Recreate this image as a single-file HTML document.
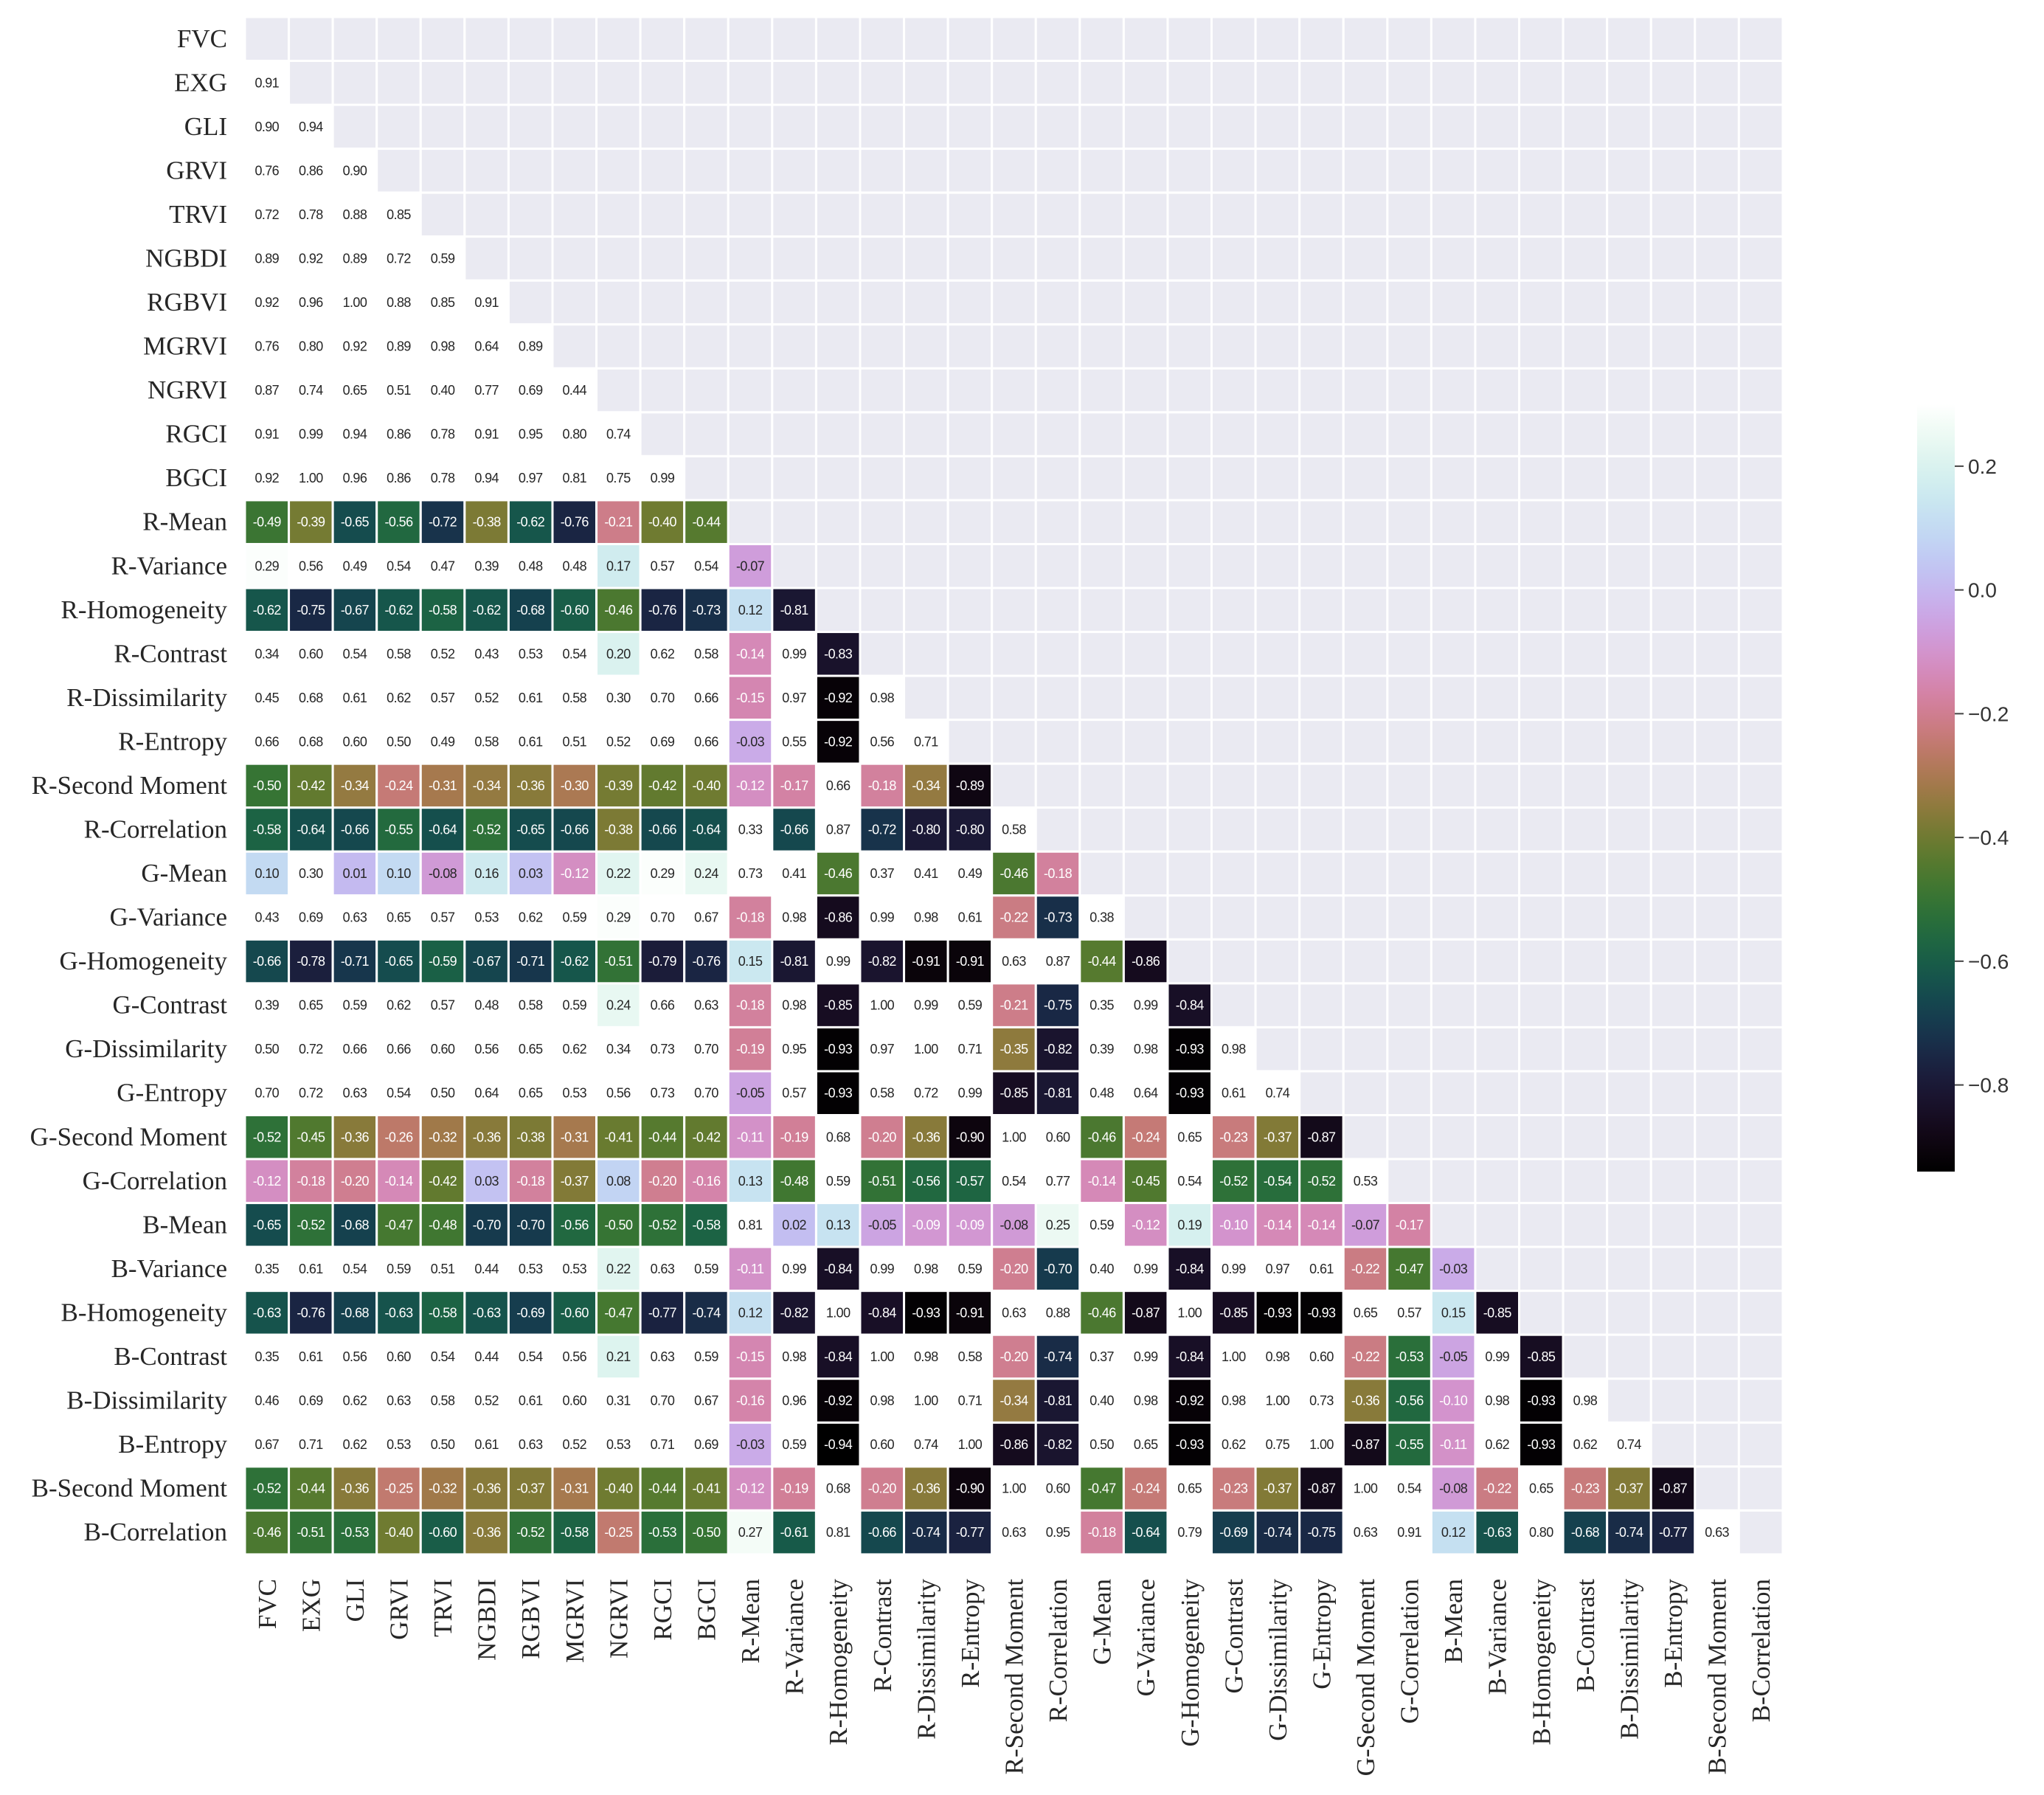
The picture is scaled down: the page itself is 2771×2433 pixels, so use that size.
<!DOCTYPE html>
<html><head><meta charset="utf-8"><style>
html,body{margin:0;padding:0;background:#fff;}
svg{display:block;}
</style></head><body>
<svg id="chart" width="2771" height="2433" xmlns="http://www.w3.org/2000/svg"></svg>
<script>
const labels = ["FVC","EXG","GLI","GRVI","TRVI","NGBDI","RGBVI","MGRVI","NGRVI","RGCI","BGCI","R-Mean","R-Variance","R-Homogeneity","R-Contrast","R-Dissimilarity","R-Entropy","R-Second Moment","R-Correlation","G-Mean","G-Variance","G-Homogeneity","G-Contrast","G-Dissimilarity","G-Entropy","G-Second Moment","G-Correlation","B-Mean","B-Variance","B-Homogeneity","B-Contrast","B-Dissimilarity","B-Entropy","B-Second Moment","B-Correlation"];
const lowerRows = [
[],
[0.91],
[0.90,0.94],
[0.76,0.86,0.90],
[0.72,0.78,0.88,0.85],
[0.89,0.92,0.89,0.72,0.59],
[0.92,0.96,1.00,0.88,0.85,0.91],
[0.76,0.80,0.92,0.89,0.98,0.64,0.89],
[0.87,0.74,0.65,0.51,0.40,0.77,0.69,0.44],
[0.91,0.99,0.94,0.86,0.78,0.91,0.95,0.80,0.74],
[0.92,1.00,0.96,0.86,0.78,0.94,0.97,0.81,0.75,0.99],
[-0.49,-0.39,-0.65,-0.56,-0.72,-0.38,-0.62,-0.76,-0.21,-0.40,-0.44],
[0.29,0.56,0.49,0.54,0.47,0.39,0.48,0.48,0.17,0.57,0.54,-0.07],
[-0.62,-0.75,-0.67,-0.62,-0.58,-0.62,-0.68,-0.60,-0.46,-0.76,-0.73,0.12,-0.81],
[0.34,0.60,0.54,0.58,0.52,0.43,0.53,0.54,0.20,0.62,0.58,-0.14,0.99,-0.83],
[0.45,0.68,0.61,0.62,0.57,0.52,0.61,0.58,0.30,0.70,0.66,-0.15,0.97,-0.92,0.98],
[0.66,0.68,0.60,0.50,0.49,0.58,0.61,0.51,0.52,0.69,0.66,-0.03,0.55,-0.92,0.56,0.71],
[-0.50,-0.42,-0.34,-0.24,-0.31,-0.34,-0.36,-0.30,-0.39,-0.42,-0.40,-0.12,-0.17,0.66,-0.18,-0.34,-0.89],
[-0.58,-0.64,-0.66,-0.55,-0.64,-0.52,-0.65,-0.66,-0.38,-0.66,-0.64,0.33,-0.66,0.87,-0.72,-0.80,-0.80,0.58],
[0.10,0.30,0.01,0.10,-0.08,0.16,0.03,-0.12,0.22,0.29,0.24,0.73,0.41,-0.46,0.37,0.41,0.49,-0.46,-0.18],
[0.43,0.69,0.63,0.65,0.57,0.53,0.62,0.59,0.29,0.70,0.67,-0.18,0.98,-0.86,0.99,0.98,0.61,-0.22,-0.73,0.38],
[-0.66,-0.78,-0.71,-0.65,-0.59,-0.67,-0.71,-0.62,-0.51,-0.79,-0.76,0.15,-0.81,0.99,-0.82,-0.91,-0.91,0.63,0.87,-0.44,-0.86],
[0.39,0.65,0.59,0.62,0.57,0.48,0.58,0.59,0.24,0.66,0.63,-0.18,0.98,-0.85,1.00,0.99,0.59,-0.21,-0.75,0.35,0.99,-0.84],
[0.50,0.72,0.66,0.66,0.60,0.56,0.65,0.62,0.34,0.73,0.70,-0.19,0.95,-0.93,0.97,1.00,0.71,-0.35,-0.82,0.39,0.98,-0.93,0.98],
[0.70,0.72,0.63,0.54,0.50,0.64,0.65,0.53,0.56,0.73,0.70,-0.05,0.57,-0.93,0.58,0.72,0.99,-0.85,-0.81,0.48,0.64,-0.93,0.61,0.74],
[-0.52,-0.45,-0.36,-0.26,-0.32,-0.36,-0.38,-0.31,-0.41,-0.44,-0.42,-0.11,-0.19,0.68,-0.20,-0.36,-0.90,1.00,0.60,-0.46,-0.24,0.65,-0.23,-0.37,-0.87],
[-0.12,-0.18,-0.20,-0.14,-0.42,0.03,-0.18,-0.37,0.08,-0.20,-0.16,0.13,-0.48,0.59,-0.51,-0.56,-0.57,0.54,0.77,-0.14,-0.45,0.54,-0.52,-0.54,-0.52,0.53],
[-0.65,-0.52,-0.68,-0.47,-0.48,-0.70,-0.70,-0.56,-0.50,-0.52,-0.58,0.81,0.02,0.13,-0.05,-0.09,-0.09,-0.08,0.25,0.59,-0.12,0.19,-0.10,-0.14,-0.14,-0.07,-0.17],
[0.35,0.61,0.54,0.59,0.51,0.44,0.53,0.53,0.22,0.63,0.59,-0.11,0.99,-0.84,0.99,0.98,0.59,-0.20,-0.70,0.40,0.99,-0.84,0.99,0.97,0.61,-0.22,-0.47,-0.03],
[-0.63,-0.76,-0.68,-0.63,-0.58,-0.63,-0.69,-0.60,-0.47,-0.77,-0.74,0.12,-0.82,1.00,-0.84,-0.93,-0.91,0.63,0.88,-0.46,-0.87,1.00,-0.85,-0.93,-0.93,0.65,0.57,0.15,-0.85],
[0.35,0.61,0.56,0.60,0.54,0.44,0.54,0.56,0.21,0.63,0.59,-0.15,0.98,-0.84,1.00,0.98,0.58,-0.20,-0.74,0.37,0.99,-0.84,1.00,0.98,0.60,-0.22,-0.53,-0.05,0.99,-0.85],
[0.46,0.69,0.62,0.63,0.58,0.52,0.61,0.60,0.31,0.70,0.67,-0.16,0.96,-0.92,0.98,1.00,0.71,-0.34,-0.81,0.40,0.98,-0.92,0.98,1.00,0.73,-0.36,-0.56,-0.10,0.98,-0.93,0.98],
[0.67,0.71,0.62,0.53,0.50,0.61,0.63,0.52,0.53,0.71,0.69,-0.03,0.59,-0.94,0.60,0.74,1.00,-0.86,-0.82,0.50,0.65,-0.93,0.62,0.75,1.00,-0.87,-0.55,-0.11,0.62,-0.93,0.62,0.74],
[-0.52,-0.44,-0.36,-0.25,-0.32,-0.36,-0.37,-0.31,-0.40,-0.44,-0.41,-0.12,-0.19,0.68,-0.20,-0.36,-0.90,1.00,0.60,-0.47,-0.24,0.65,-0.23,-0.37,-0.87,1.00,0.54,-0.08,-0.22,0.65,-0.23,-0.37,-0.87],
[-0.46,-0.51,-0.53,-0.40,-0.60,-0.36,-0.52,-0.58,-0.25,-0.53,-0.50,0.27,-0.61,0.81,-0.66,-0.74,-0.77,0.63,0.95,-0.18,-0.64,0.79,-0.69,-0.74,-0.75,0.63,0.91,0.12,-0.63,0.80,-0.68,-0.74,-0.77,0.63]
];
const cbTicks = [0.2, 0.0, -0.2, -0.4, -0.6, -0.8];
const vmin = -0.94, vmax = 0.30;

const NS = "http://www.w3.org/2000/svg";
const svg = document.getElementById("chart");
const X0 = 332, Y0 = 23, CW = 59.57, CH = 59.54;
const n = labels.length;
function xPos(i){ return X0 + i*CW; }
function yPos(i){ return Y0 + i*CH; }
function el(tag, attrs, parent){
  const e = document.createElementNS(NS, tag);
  for (const k in attrs) e.setAttribute(k, attrs[k]);
  (parent||svg).appendChild(e);
  return e;
}
function cubehelix(x){
  const s=0.5, r=-1.5, h=1.0;
  const phi = 2*Math.PI*(s/3 + r*x);
  const amp = h*x*(1-x)/2;
  const c = Math.cos(phi), sn = Math.sin(phi);
  let R = x + amp*(-0.14861*c + 1.78277*sn);
  let G = x + amp*(-0.29227*c - 0.90649*sn);
  let B = x + amp*(1.97294*c);
  return [R,G,B].map(v=>Math.max(0,Math.min(1,v)));
}
function colorFor(v){
  let t = (v - vmin)/(vmax - vmin);
  t = Math.max(0, Math.min(1, t));
  return cubehelix(t);
}
function rgbStr(c){ return "rgb(" + c.map(v=>Math.round(v*255)).join(",") + ")"; }
function lum(c){
  const l = c.map(v => v <= 0.03928 ? v/12.92 : Math.pow((v+0.055)/1.055, 2.4));
  return 0.2126*l[0] + 0.7152*l[1] + 0.0722*l[2];
}

const cells = el("g", {});


for (let r = 0; r < n; r++){
  for (let c = 0; c < n; c++){
    if (c >= r){
      const m = el("rect", {x: xPos(c), y: yPos(r), width: CW, height: CH, fill: "#eaeaf2", stroke: "#ffffff", "stroke-width": 3}, cells);
      
      
      continue;
    }
    const v = lowerRows[r][c];
    const col = colorFor(v);
    const rect = el("rect", {x: xPos(c), y: yPos(r), width: CW, height: CH, fill: rgbStr(col), stroke: "#ffffff", "stroke-width": 3}, cells);
    
    
    const t = el("text", {x: xPos(c)+CW/2, y: yPos(r)+CH/2+6, "text-anchor": "middle", "font-family": "Liberation Sans, sans-serif", "font-size": 18, "letter-spacing": "-0.6", fill: lum(col) > 0.408 ? "#262626" : "#ffffff"}, cells);
    t.textContent = (v < 0 ? "-" : "") + Math.abs(v).toFixed(2);
    
    
  }
}

// row labels
for (let r = 0; r < n; r++){
  const t = el("text", {x: 308, y: yPos(r)+CH/2+11, "text-anchor": "end", "font-family": "Liberation Serif, serif", "font-size": 35, fill: "#262626"});
  t.textContent = labels[r];
  
  
}
// column labels
for (let c = 0; c < n; c++){
  const cx = xPos(c)+CW/2+12, ty = 2140;
  const t = el("text", {x: cx, y: ty, "text-anchor": "end", "font-family": "Liberation Serif, serif", "font-size": 35, fill: "#262626", transform: "rotate(-90 " + cx + " " + ty + ")"});
  t.textContent = labels[c];
  
  
}

// colorbar
const CBX = 2599, CBW = 51, CBT = 548, CBB = 1588;
function cbY(v){ return CBB - (v - vmin)/(vmax - vmin)*(CBB - CBT); }
const defs = el("defs", {});
const grad = el("linearGradient", {id: "cbgrad", x1: 0, y1: 1, x2: 0, y2: 0}, defs);
for (let i = 0; i <= 40; i++){
  const t = i/40;
  el("stop", {offset: t, "stop-color": rgbStr(cubehelix(t))}, grad);
}
const cb = el("rect", {x: CBX, y: CBT, width: CBW, height: CBB-CBT, fill: "url(#cbgrad)"});


cbTicks.forEach(v => {
  const y = cbY(v);
  const tk = el("line", {x1: CBX+CBW, x2: CBX+CBW+12, y1: y, y2: y, stroke: "#444", "stroke-width": 2});
  
  
  const t = el("text", {x: CBX+CBW+18, y: y+10, "font-family": "Liberation Sans, sans-serif", "font-size": 28, fill: "#333"});
  t.textContent = (v < 0 ? "\u2212" : "") + Math.abs(v).toFixed(1);
  
  
});
</script>
</body></html>
